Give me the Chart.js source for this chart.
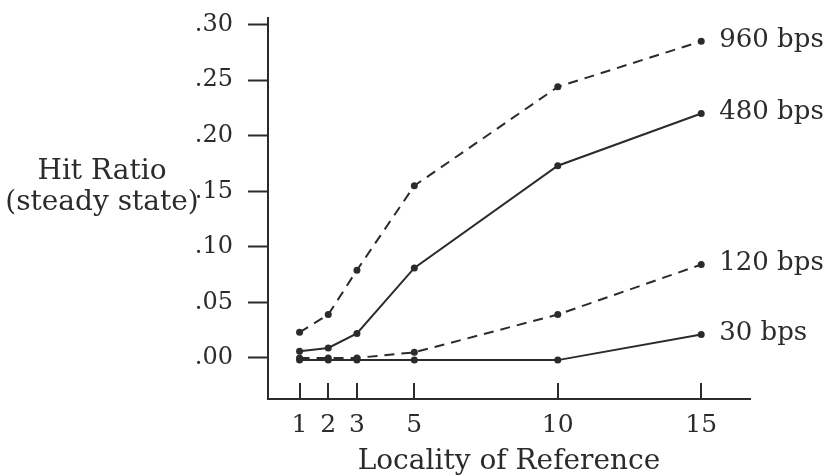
<!DOCTYPE html>
<html>
<head>
<meta charset="utf-8">
<script src="https://cdn.jsdelivr.net/npm/chart.js@4/dist/chart.umd.min.js"></script>
<style>
  html, body { margin: 0; padding: 0; background: #fff; }
  #wrap { width: 830px; height: 476px; position: relative; }
</style>
</head>
<body>
<div id="wrap"><canvas id="c" width="830" height="476"></canvas></div>
<script>
// ---- data ----
const locality = [1, 2, 3, 5, 10, 15];
const bps960 = [0.023, 0.039, 0.079, 0.155, 0.244, 0.285];
const bps480 = [0.006, 0.009, 0.022, 0.081, 0.173, 0.220];
const bps120 = [0.000, 0.000, 0.000, 0.005, 0.039, 0.084];
const bps30  = [-0.002, -0.002, -0.002, -0.002, -0.002, 0.021];
const seriesNames = ["960 bps", "480 bps", "120 bps", "30 bps"];
const xTickValues = [1, 2, 3, 5, 10, 15];
const yTickValues = [0, 0.05, 0.10, 0.15, 0.20, 0.25, 0.30];
const yTickLabels = [".00", ".05", ".10", ".15", ".20", ".25", ".30"];
const xTitle = "Locality of Reference";
const yTitleLines = ["Hit Ratio", "(steady state)"];

const INK = "#2b2b2b";
const FONT = "'DejaVu Serif', serif";

function pts(arr) { return locality.map((x, i) => ({ x: x, y: arr[i] })); }

const seriesData = [bps960, bps480, bps120, bps30];
const dashed = [true, false, true, false];

const datasets = seriesData.map((arr, i) => ({
  label: seriesNames[i],
  data: pts(arr),
  borderColor: INK,
  backgroundColor: INK,
  borderWidth: 2,
  borderDash: dashed[i] ? [10, 7] : [],
  pointRadius: 3.5,
  pointBackgroundColor: INK,
  pointBorderWidth: 0,
  tension: 0,
  fill: false
}));

const decor = {
  id: 'decor',
  afterDraw(chart) {
    const ctx = chart.ctx;
    const xs = chart.scales.x, ys = chart.scales.y;
    const area = chart.chartArea;
    ctx.save();
    // inward x tick marks
    ctx.strokeStyle = INK;
    ctx.lineWidth = 2;
    xTickValues.forEach(v => {
      const px = Math.round(xs.getPixelForValue(v));
      ctx.beginPath();
      ctx.moveTo(px, area.bottom);
      ctx.lineTo(px, area.bottom - 16);
      ctx.stroke();
    });
    // series labels at the right end
    ctx.fillStyle = INK;
    ctx.font = "26px " + FONT;
    ctx.textAlign = "left";
    ctx.textBaseline = "middle";
    seriesData.forEach((arr, i) => {
      const last = arr.length - 1;
      const px = xs.getPixelForValue(locality[last]);
      const py = ys.getPixelForValue(arr[last]);
      ctx.fillText(seriesNames[i], px + 18, py - 1);
    });
    // y title (horizontal, two lines)
    ctx.font = "28px " + FONT;
    ctx.textAlign = "center";
    ctx.fillText(yTitleLines[0], 102, 172);
    ctx.fillText(yTitleLines[1], 102, 203);
    ctx.restore();
  }
};

function noPad(s) {
  s.paddingTop = 0; s.paddingBottom = 0; s.paddingLeft = 0; s.paddingRight = 0;
}

new Chart(document.getElementById('c'), {
  type: 'line',
  data: { datasets: datasets },
  options: {
    responsive: false,
    animation: false,
    devicePixelRatio: 1,
    layout: { padding: { top: 18, right: 80, left: 0, bottom: 0 } },
    plugins: { legend: { display: false }, tooltip: { enabled: false } },
    scales: {
      x: {
        type: 'linear',
        min: -0.1,
        max: 16.7,
        afterBuildTicks: s => { s.ticks = xTickValues.map(v => ({ value: v })); },
        afterFit: s => { s.height = 77; noPad(s); },
        border: { display: true, color: INK, width: 2 },
        grid: { display: true, drawOnChartArea: false, drawTicks: false, color: 'rgba(0,0,0,0)' },
        ticks: {
          color: INK,
          font: { family: FONT, size: 25 },
          padding: 11,
          maxRotation: 0,
          autoSkip: false,
          callback: v => String(v)
        },
        title: {
          display: true,
          text: xTitle,
          color: INK,
          font: { family: FONT, size: 28, lineHeight: 1 },
          padding: { top: 0, bottom: 0 }
        }
      },
      y: {
        type: 'linear',
        min: -0.037,
        max: 0.306,
        afterBuildTicks: s => { s.ticks = yTickValues.map(v => ({ value: v })); },
        afterFit: s => { s.width = 268; noPad(s); },
        border: { display: true, color: INK, width: 2 },
        grid: { display: true, drawOnChartArea: false, drawTicks: true, tickLength: 20, tickWidth: 2, tickColor: INK, color: INK },
        ticks: {
          color: INK,
          font: { family: FONT, size: 24 },
          padding: 15,
          autoSkip: false,
          callback: (v) => {
            const i = yTickValues.findIndex(t => Math.abs(t - v) < 1e-9);
            return i >= 0 ? yTickLabels[i] : '';
          }
        }
      }
    }
  },
  plugins: [decor]
});
</script>
</body>
</html>
